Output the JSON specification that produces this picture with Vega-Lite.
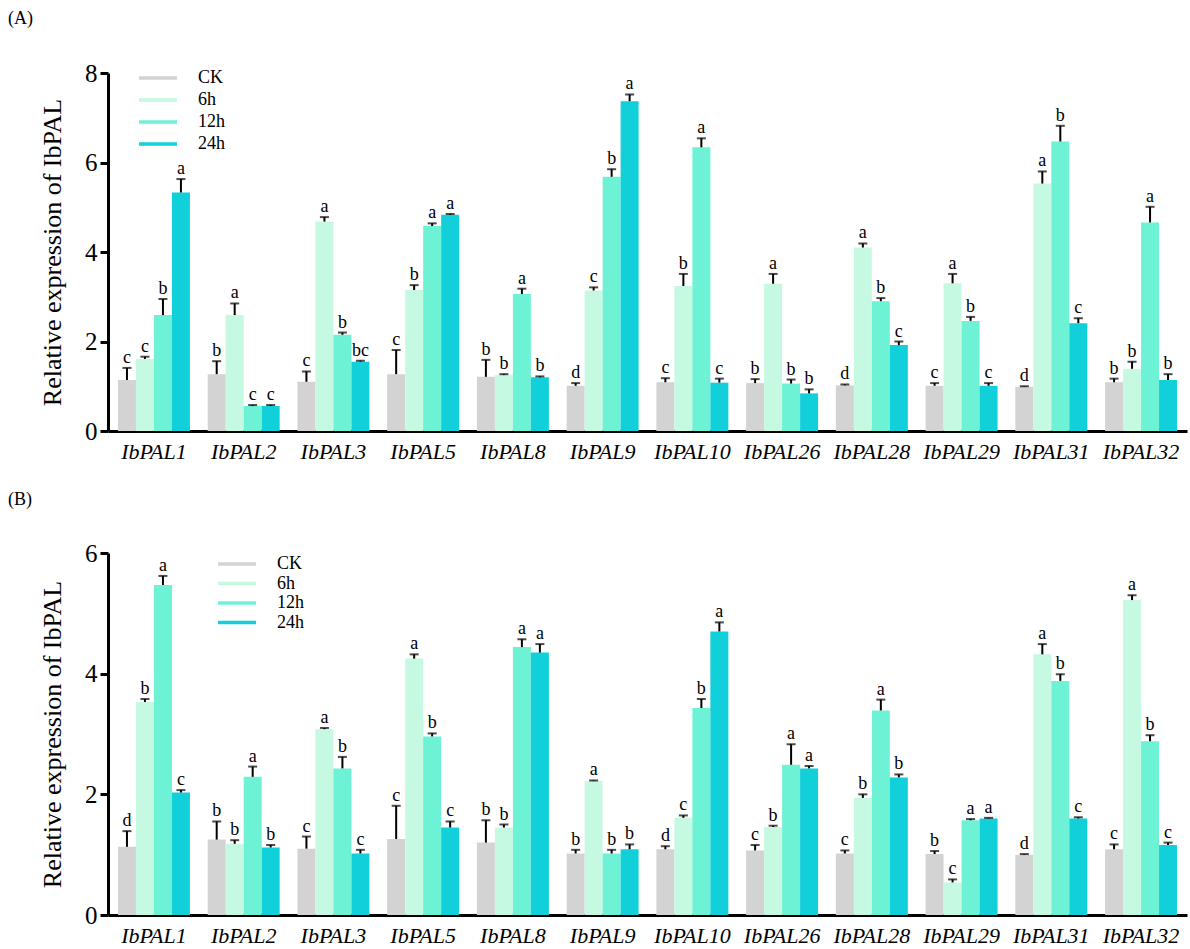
{
  "$schema": "https://vega.github.io/schema/vega-lite/v6.json",
  "background": "white",
  "padding": {"left": 8, "top": 10, "right": 3, "bottom": 2},
  "config": {
    "font": "Liberation Serif",
    "view": {"stroke": null},
    "axis": {"labelFont": "Liberation Serif", "titleFont": "Liberation Serif", "labelColor": "black", "titleColor": "black", "domainColor": "black", "tickColor": "black", "grid": false},
    "legend": {"labelFont": "Liberation Serif", "labelColor": "black"},
    "title": {"font": "Liberation Serif", "fontWeight": "normal", "color": "black"}
  },
  "datasets": {
    "A": [
      {"gene": "IbPAL1", "group": "CK", "value": 1.14, "err": 1.41, "letter": "c"},
      {"gene": "IbPAL1", "group": "6h", "value": 1.61, "err": 1.66, "letter": "c"},
      {"gene": "IbPAL1", "group": "12h", "value": 2.59, "err": 2.95, "letter": "b"},
      {"gene": "IbPAL1", "group": "24h", "value": 5.33, "err": 5.63, "letter": "a"},
      {"gene": "IbPAL2", "group": "CK", "value": 1.27, "err": 1.56, "letter": "b"},
      {"gene": "IbPAL2", "group": "6h", "value": 2.59, "err": 2.85, "letter": "a"},
      {"gene": "IbPAL2", "group": "12h", "value": 0.56, "err": 0.58, "letter": "c"},
      {"gene": "IbPAL2", "group": "24h", "value": 0.56, "err": 0.58, "letter": "c"},
      {"gene": "IbPAL3", "group": "CK", "value": 1.10, "err": 1.33, "letter": "c"},
      {"gene": "IbPAL3", "group": "6h", "value": 4.68, "err": 4.78, "letter": "a"},
      {"gene": "IbPAL3", "group": "12h", "value": 2.15, "err": 2.20, "letter": "b"},
      {"gene": "IbPAL3", "group": "24h", "value": 1.55, "err": 1.57, "letter": "bc"},
      {"gene": "IbPAL5", "group": "CK", "value": 1.27, "err": 1.81, "letter": "c"},
      {"gene": "IbPAL5", "group": "6h", "value": 3.15, "err": 3.26, "letter": "b"},
      {"gene": "IbPAL5", "group": "12h", "value": 4.58, "err": 4.64, "letter": "a"},
      {"gene": "IbPAL5", "group": "24h", "value": 4.83, "err": 4.85, "letter": "a"},
      {"gene": "IbPAL8", "group": "CK", "value": 1.21, "err": 1.59, "letter": "b"},
      {"gene": "IbPAL8", "group": "6h", "value": 1.25, "err": 1.27, "letter": "b"},
      {"gene": "IbPAL8", "group": "12h", "value": 3.06, "err": 3.18, "letter": "a"},
      {"gene": "IbPAL8", "group": "24h", "value": 1.20, "err": 1.22, "letter": "b"},
      {"gene": "IbPAL9", "group": "CK", "value": 1.01, "err": 1.07, "letter": "d"},
      {"gene": "IbPAL9", "group": "6h", "value": 3.14, "err": 3.21, "letter": "c"},
      {"gene": "IbPAL9", "group": "12h", "value": 5.68, "err": 5.85, "letter": "b"},
      {"gene": "IbPAL9", "group": "24h", "value": 7.37, "err": 7.52, "letter": "a"},
      {"gene": "IbPAL10", "group": "CK", "value": 1.09, "err": 1.18, "letter": "c"},
      {"gene": "IbPAL10", "group": "6h", "value": 3.24, "err": 3.51, "letter": "b"},
      {"gene": "IbPAL10", "group": "12h", "value": 6.34, "err": 6.54, "letter": "a"},
      {"gene": "IbPAL10", "group": "24h", "value": 1.08, "err": 1.17, "letter": "c"},
      {"gene": "IbPAL26", "group": "CK", "value": 1.07, "err": 1.16, "letter": "b"},
      {"gene": "IbPAL26", "group": "6h", "value": 3.29, "err": 3.51, "letter": "a"},
      {"gene": "IbPAL26", "group": "12h", "value": 1.06, "err": 1.15, "letter": "b"},
      {"gene": "IbPAL26", "group": "24h", "value": 0.84, "err": 0.93, "letter": "b"},
      {"gene": "IbPAL28", "group": "CK", "value": 1.02, "err": 1.04, "letter": "d"},
      {"gene": "IbPAL28", "group": "6h", "value": 4.10, "err": 4.19, "letter": "a"},
      {"gene": "IbPAL28", "group": "12h", "value": 2.90, "err": 2.97, "letter": "b"},
      {"gene": "IbPAL28", "group": "24h", "value": 1.92, "err": 2.00, "letter": "c"},
      {"gene": "IbPAL29", "group": "CK", "value": 1.01, "err": 1.07, "letter": "c"},
      {"gene": "IbPAL29", "group": "6h", "value": 3.30, "err": 3.51, "letter": "a"},
      {"gene": "IbPAL29", "group": "12h", "value": 2.46, "err": 2.55, "letter": "b"},
      {"gene": "IbPAL29", "group": "24h", "value": 1.01, "err": 1.07, "letter": "c"},
      {"gene": "IbPAL31", "group": "CK", "value": 0.99, "err": 1.00, "letter": "d"},
      {"gene": "IbPAL31", "group": "6h", "value": 5.53, "err": 5.80, "letter": "a"},
      {"gene": "IbPAL31", "group": "12h", "value": 6.47, "err": 6.82, "letter": "b"},
      {"gene": "IbPAL31", "group": "24h", "value": 2.41, "err": 2.52, "letter": "c"},
      {"gene": "IbPAL32", "group": "CK", "value": 1.09, "err": 1.17, "letter": "b"},
      {"gene": "IbPAL32", "group": "6h", "value": 1.39, "err": 1.55, "letter": "b"},
      {"gene": "IbPAL32", "group": "12h", "value": 4.66, "err": 5.01, "letter": "a"},
      {"gene": "IbPAL32", "group": "24h", "value": 1.14, "err": 1.27, "letter": "b"}
    ],
    "B": [
      {"gene": "IbPAL1", "group": "CK", "value": 1.13, "err": 1.39, "letter": "d"},
      {"gene": "IbPAL1", "group": "6h", "value": 3.53, "err": 3.58, "letter": "b"},
      {"gene": "IbPAL1", "group": "12h", "value": 5.47, "err": 5.62, "letter": "a"},
      {"gene": "IbPAL1", "group": "24h", "value": 2.03, "err": 2.07, "letter": "c"},
      {"gene": "IbPAL2", "group": "CK", "value": 1.25, "err": 1.55, "letter": "b"},
      {"gene": "IbPAL2", "group": "6h", "value": 1.18, "err": 1.24, "letter": "b"},
      {"gene": "IbPAL2", "group": "12h", "value": 2.29, "err": 2.46, "letter": "a"},
      {"gene": "IbPAL2", "group": "24h", "value": 1.12, "err": 1.16, "letter": "b"},
      {"gene": "IbPAL3", "group": "CK", "value": 1.10, "err": 1.30, "letter": "c"},
      {"gene": "IbPAL3", "group": "6h", "value": 3.08, "err": 3.10, "letter": "a"},
      {"gene": "IbPAL3", "group": "12h", "value": 2.43, "err": 2.62, "letter": "b"},
      {"gene": "IbPAL3", "group": "24h", "value": 1.02, "err": 1.08, "letter": "c"},
      {"gene": "IbPAL5", "group": "CK", "value": 1.26, "err": 1.81, "letter": "c"},
      {"gene": "IbPAL5", "group": "6h", "value": 4.25, "err": 4.32, "letter": "a"},
      {"gene": "IbPAL5", "group": "12h", "value": 2.96, "err": 3.01, "letter": "b"},
      {"gene": "IbPAL5", "group": "24h", "value": 1.45, "err": 1.55, "letter": "c"},
      {"gene": "IbPAL8", "group": "CK", "value": 1.20, "err": 1.57, "letter": "b"},
      {"gene": "IbPAL8", "group": "6h", "value": 1.45, "err": 1.50, "letter": "b"},
      {"gene": "IbPAL8", "group": "12h", "value": 4.44, "err": 4.57, "letter": "a"},
      {"gene": "IbPAL8", "group": "24h", "value": 4.35, "err": 4.49, "letter": "a"},
      {"gene": "IbPAL9", "group": "CK", "value": 1.02, "err": 1.08, "letter": "b"},
      {"gene": "IbPAL9", "group": "6h", "value": 2.22, "err": 2.23, "letter": "a"},
      {"gene": "IbPAL9", "group": "12h", "value": 1.02, "err": 1.08, "letter": "b"},
      {"gene": "IbPAL9", "group": "24h", "value": 1.09, "err": 1.17, "letter": "b"},
      {"gene": "IbPAL10", "group": "CK", "value": 1.09, "err": 1.14, "letter": "d"},
      {"gene": "IbPAL10", "group": "6h", "value": 1.61, "err": 1.65, "letter": "c"},
      {"gene": "IbPAL10", "group": "12h", "value": 3.43, "err": 3.58, "letter": "b"},
      {"gene": "IbPAL10", "group": "24h", "value": 4.70, "err": 4.85, "letter": "a"},
      {"gene": "IbPAL26", "group": "CK", "value": 1.07, "err": 1.16, "letter": "c"},
      {"gene": "IbPAL26", "group": "6h", "value": 1.46, "err": 1.48, "letter": "b"},
      {"gene": "IbPAL26", "group": "12h", "value": 2.49, "err": 2.83, "letter": "a"},
      {"gene": "IbPAL26", "group": "24h", "value": 2.43, "err": 2.47, "letter": "a"},
      {"gene": "IbPAL28", "group": "CK", "value": 1.02, "err": 1.07, "letter": "c"},
      {"gene": "IbPAL28", "group": "6h", "value": 1.94, "err": 2.00, "letter": "b"},
      {"gene": "IbPAL28", "group": "12h", "value": 3.39, "err": 3.57, "letter": "a"},
      {"gene": "IbPAL28", "group": "24h", "value": 2.28, "err": 2.33, "letter": "b"},
      {"gene": "IbPAL29", "group": "CK", "value": 1.01, "err": 1.06, "letter": "b"},
      {"gene": "IbPAL29", "group": "6h", "value": 0.54, "err": 0.59, "letter": "c"},
      {"gene": "IbPAL29", "group": "12h", "value": 1.57, "err": 1.59, "letter": "a"},
      {"gene": "IbPAL29", "group": "24h", "value": 1.60, "err": 1.61, "letter": "a"},
      {"gene": "IbPAL31", "group": "CK", "value": 1.00, "err": 1.01, "letter": "d"},
      {"gene": "IbPAL31", "group": "6h", "value": 4.32, "err": 4.49, "letter": "a"},
      {"gene": "IbPAL31", "group": "12h", "value": 3.88, "err": 3.99, "letter": "b"},
      {"gene": "IbPAL31", "group": "24h", "value": 1.60, "err": 1.62, "letter": "c"},
      {"gene": "IbPAL32", "group": "CK", "value": 1.09, "err": 1.17, "letter": "c"},
      {"gene": "IbPAL32", "group": "6h", "value": 5.22, "err": 5.30, "letter": "a"},
      {"gene": "IbPAL32", "group": "12h", "value": 2.88, "err": 2.98, "letter": "b"},
      {"gene": "IbPAL32", "group": "24h", "value": 1.16, "err": 1.20, "letter": "c"}
    ]
  },
  "spacing": 29,
  "resolve": {"scale": {"color": "independent", "x": "independent", "y": "independent", "xOffset": "independent"}, "legend": {"color": "independent"}},
  "vconcat": [
    {
      "title": {"text": "(A)", "anchor": "start", "frame": "group", "dx": -100, "offset": 33, "fontSize": 18},
      "width": 1079,
      "height": 358,
      "data": {"name": "A"},
      "encoding": {
        "x": {"field": "gene", "type": "nominal", "sort": ["IbPAL1","IbPAL2","IbPAL3","IbPAL5","IbPAL8","IbPAL9","IbPAL10","IbPAL26","IbPAL28","IbPAL29","IbPAL31","IbPAL32"], "scale": {"paddingInner": 0.198, "paddingOuter": 0.111}, "axis": {"title": null, "labelAngle": 0, "labelFontStyle": "italic", "labelFontSize": 22, "ticks": false, "domainWidth": 3, "labelPadding": 10}},
        "xOffset": {"field": "group", "type": "nominal", "sort": ["CK","6h","12h","24h"], "scale": {"paddingInner": 0, "paddingOuter": 0}}
      },
      "layer": [
        {
          "mark": {"type": "bar"},
          "encoding": {
            "y": {"field": "value", "type": "quantitative", "title": "Relative expression of IbPAL", "scale": {"domain": [0, 8], "nice": false}, "axis": {"values": [0,2,4,6,8], "format": "d", "tickSize": 8, "tickWidth": 3, "domainWidth": 3, "labelFontSize": 25, "labelPadding": 3, "titleFontSize": 26, "titleFontWeight": "normal", "titlePadding": 19}},
            "color": {"field": "group", "type": "nominal", "scale": {"domain": ["CK","6h","12h","24h"], "range": ["#D3D3D3","#C5F9E2","#6EF2D5","#11D0DA"]}, "legend": {"title": null, "orient": "none", "legendX": 40, "legendY": -5, "padding": 0, "symbolType": "M-1.9,-0.175H1.9V0.175H-1.9Z", "symbolSize": 400, "symbolStrokeWidth": 0, "symbolOpacity": 1, "labelFontSize": 18, "labelOffset": 30, "rowPadding": 3}}
          }
        },
        {
          "mark": {"type": "rule", "strokeWidth": 2, "color": "black"},
          "encoding": {
            "y": {"field": "value", "type": "quantitative", "title": "Relative expression of IbPAL"},
            "y2": {"field": "err"}
          }
        },
        {
          "mark": {"type": "tick", "color": "black", "thickness": 2, "size": 9},
          "encoding": {
            "y": {"field": "err", "type": "quantitative", "title": "Relative expression of IbPAL"}
          }
        },
        {
          "mark": {"type": "text", "baseline": "bottom", "dy": -1, "fontSize": 18, "color": "black"},
          "encoding": {
            "y": {"field": "err", "type": "quantitative", "title": "Relative expression of IbPAL"},
            "text": {"field": "letter"}
          }
        }
      ]
    },
    {
      "title": {"text": "(B)", "anchor": "start", "frame": "group", "dx": -100, "offset": 32, "fontSize": 18},
      "width": 1079,
      "height": 362,
      "data": {"name": "B"},
      "encoding": {
        "x": {"field": "gene", "type": "nominal", "sort": ["IbPAL1","IbPAL2","IbPAL3","IbPAL5","IbPAL8","IbPAL9","IbPAL10","IbPAL26","IbPAL28","IbPAL29","IbPAL31","IbPAL32"], "scale": {"paddingInner": 0.198, "paddingOuter": 0.111}, "axis": {"title": null, "labelAngle": 0, "labelFontStyle": "italic", "labelFontSize": 22, "ticks": false, "domainWidth": 3, "labelPadding": 10}},
        "xOffset": {"field": "group", "type": "nominal", "sort": ["CK","6h","12h","24h"], "scale": {"paddingInner": 0, "paddingOuter": 0}}
      },
      "layer": [
        {
          "mark": {"type": "bar"},
          "encoding": {
            "y": {"field": "value", "type": "quantitative", "title": "Relative expression of IbPAL", "scale": {"domain": [0, 6], "nice": false}, "axis": {"values": [0,2,4,6], "format": "d", "tickSize": 8, "tickWidth": 3, "domainWidth": 3, "labelFontSize": 25, "labelPadding": 3, "titleFontSize": 26, "titleFontWeight": "normal", "titlePadding": 19}},
            "color": {"field": "group", "type": "nominal", "scale": {"domain": ["CK","6h","12h","24h"], "range": ["#D3D3D3","#C5F9E2","#6EF2D5","#11D0DA"]}, "legend": {"title": null, "orient": "none", "legendX": 119, "legendY": 1, "padding": 0, "symbolType": "M-1.9,-0.175H1.9V0.175H-1.9Z", "symbolSize": 400, "symbolStrokeWidth": 0, "symbolOpacity": 1, "labelFontSize": 18, "labelOffset": 30, "rowPadding": 0.5}}
          }
        },
        {
          "mark": {"type": "rule", "strokeWidth": 2, "color": "black"},
          "encoding": {
            "y": {"field": "value", "type": "quantitative", "title": "Relative expression of IbPAL"},
            "y2": {"field": "err"}
          }
        },
        {
          "mark": {"type": "tick", "color": "black", "thickness": 2, "size": 9},
          "encoding": {
            "y": {"field": "err", "type": "quantitative", "title": "Relative expression of IbPAL"}
          }
        },
        {
          "mark": {"type": "text", "baseline": "bottom", "dy": -1, "fontSize": 18, "color": "black"},
          "encoding": {
            "y": {"field": "err", "type": "quantitative", "title": "Relative expression of IbPAL"},
            "text": {"field": "letter"}
          }
        }
      ]
    }
  ]
}
